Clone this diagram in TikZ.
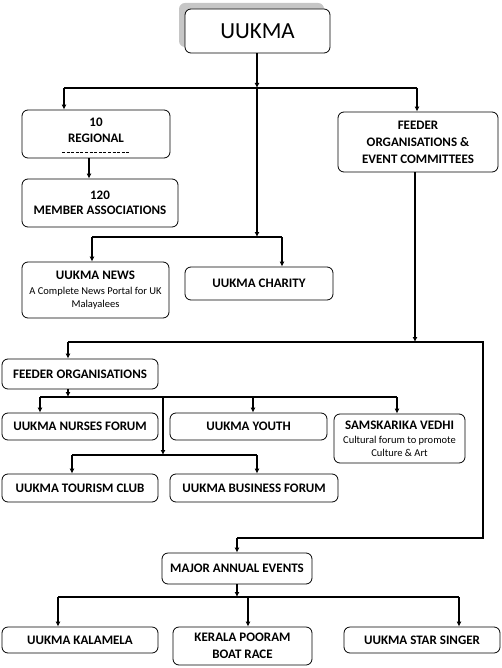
\documentclass[tikz,border=0pt]{standalone}
\usepackage{fontspec}
\setmainfont{Carlito}
\usetikzlibrary{arrows.meta}
\begin{document}
\begin{tikzpicture}[x=1pt,y=-1pt,
  box/.style={draw=black,line width=0.8pt,rounded corners=6pt,fill=white,align=center,inner sep=0pt,font=\bfseries\fontsize{13}{16}\selectfont},
  conn/.style={line width=1.5pt},
  arr/.style={line width=1.5pt,-{Latex[length=5pt,width=5pt]}}]
\useasboundingbox (0,0) rectangle (502,668);
\newcommand{\sm}{\mdseries\fontsize{10.5}{13}\selectfont}
% top
\fill[gray!45,rounded corners=6pt] (179,3) rectangle (324,47);
\node[box,minimum width=145,minimum height=44,font=\fontsize{23}{26}\selectfont] (uukma) at (257.5,31) {UUKMA};
\node[box,minimum width=148,minimum height=48,text depth=8pt] (regional) at (96,134) {10\\REGIONAL};
\draw[line width=0.6pt,dash pattern=on 3pt off 1.6pt] (62,152) -- (130,152);
\node[box,minimum width=156,minimum height=48,font=\bfseries\fontsize{13}{15}\selectfont] (member) at (100,203) {120\\MEMBER ASSOCIATIONS};
\node[box,minimum width=147,minimum height=56,font=\bfseries\fontsize{13}{14}\selectfont] (news) at (95.5,290) {UUKMA NEWS\\[1pt]{\sm A Complete News Portal for UK}\\[-1pt]{\sm Malayalees}};
\node[box,minimum width=148,minimum height=33] (charity) at (259,283.5) {UUKMA CHARITY};
\node[box,minimum width=160,minimum height=60,font=\bfseries\fontsize{13}{17}\selectfont] (feeder) at (418,142) {FEEDER\\ORGANISATIONS \&\\EVENT COMMITTEES};
\node[box,minimum width=156,minimum height=30] (feederorg) at (80,374) {FEEDER ORGANISATIONS};
\node[box,minimum width=156,minimum height=27] (nurses) at (80,426.5) {UUKMA NURSES FORUM};
\node[box,minimum width=157,minimum height=27] (youth) at (248.5,426.5) {UUKMA YOUTH};
\node[box,minimum width=131,minimum height=49,font=\bfseries\fontsize{13}{14}\selectfont] (samskarika) at (399.5,438.5) {SAMSKARIKA VEDHI\\{\sm Cultural forum to promote}\\[-1pt]{\sm Culture \& Art}};
\node[box,minimum width=156,minimum height=28] (tourism) at (80,488) {UUKMA TOURISM CLUB};
\node[box,minimum width=168,minimum height=28] (business) at (254,488) {UUKMA BUSINESS FORUM};
\node[box,minimum width=150,minimum height=31] (major) at (237,568.5) {MAJOR ANNUAL EVENTS};
\node[box,minimum width=156,minimum height=26] (kalamela) at (80,640) {UUKMA KALAMELA};
\node[box,minimum width=139,minimum height=38,font=\bfseries\fontsize{13}{17}\selectfont,text depth=1pt] (kerala) at (242.5,646) {KERALA POORAM\\BOAT RACE};
\node[box,minimum width=156,minimum height=26] (star) at (422,640) {UUKMA STAR SINGER};
% junction coordinates
\coordinate (b1m) at (257,88);
\coordinate (b1l) at (64,88);
\coordinate (b1r) at (417,88);
\coordinate (b2m) at (257,237);
\coordinate (b2l) at (92,237);
\coordinate (b2r) at (282,237);
\coordinate (b3f) at (415,342);
\coordinate (b3l) at (68,342);
\coordinate (b3r) at (483,342);
\coordinate (b3c) at (483,538);
\coordinate (b3e) at (237,538);
\coordinate (b4m) at (68,397);
\coordinate (b4l) at (40,397);
\coordinate (b4y) at (253,397);
\coordinate (b4r) at (397,397);
\coordinate (b4d) at (163,397);
\coordinate (b5m) at (163,455);
\coordinate (b5l) at (72,455);
\coordinate (b5r) at (257,455);
\coordinate (b6m) at (237,597);
\coordinate (b6l) at (58,597);
\coordinate (b6c) at (248,597);
\coordinate (b6r) at (459,597);
\coordinate (rm) at (89,0);
% connectors
\draw[arr] (uukma.south -| b1m) -- (b1m);
\draw[conn] (b1l) -- (b1r);
\draw[arr] (b1l) -- (b1l |- regional.north);
\draw[arr] (b1r) -- (b1r |- feeder.north);
\draw[arr] (b1m) -- (b2m);
\draw[conn] (b2l) -- (b2r);
\draw[arr] (b2l) -- (b2l |- news.north);
\draw[arr] (b2r) -- (b2r |- charity.north);
\draw[arr] (regional.south -| rm) -- (member.north -| rm);
\draw[arr] (feeder.south -| b3f) -- (b3f);
\draw[conn] (b3l) -- (b3r) -- (b3c) -- (b3e);
\draw[arr] (b3e) -- (b3e |- major.north);
\draw[arr] (b3l) -- (b3l |- feederorg.north);
\draw[arr] (feederorg.south -| b4m) -- (b4m);
\draw[conn] (b4l) -- (b4r);
\draw[arr] (b4l) -- (b4l |- nurses.north);
\draw[arr] (b4y) -- (b4y |- youth.north);
\draw[arr] (b4r) -- (b4r |- samskarika.north);
\draw[arr] (b4d) -- (b5m);
\draw[conn] (b5l) -- (b5r);
\draw[arr] (b5l) -- (b5l |- tourism.north);
\draw[arr] (b5r) -- (b5r |- business.north);
\draw[arr] (major.south -| b6m) -- (b6m);
\draw[conn] (b6l) -- (b6r);
\draw[arr] (b6l) -- (b6l |- kalamela.north);
\draw[arr] (b6c) -- (b6c |- kerala.north);
\draw[arr] (b6r) -- (b6r |- star.north);
\end{tikzpicture}
\end{document}
